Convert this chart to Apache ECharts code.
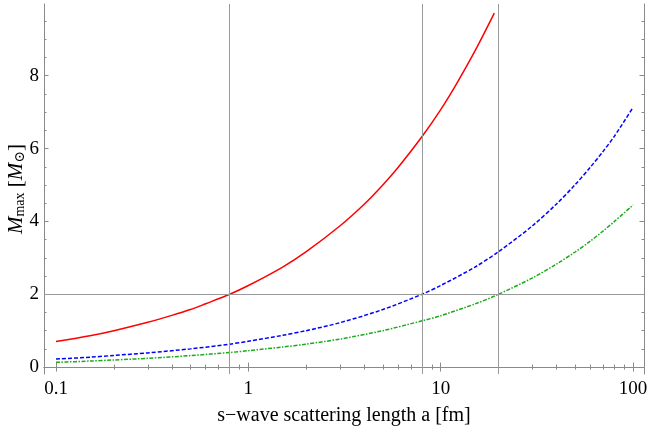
<!DOCTYPE html>
<html>
<head>
<meta charset="utf-8">
<script src="https://cdn.jsdelivr.net/npm/echarts@6/dist/echarts.min.js"></script>
<style>html,body{margin:0;padding:0;background:#fff}#c{width:649px;height:433px}</style>
</head>
<body>
<div id="c"></div>
<script>
// ---- data ----
const redX   = [0.1, 0.15, 0.2, 0.3, 0.4, 0.5, 0.6, 0.8, 1, 1.5, 2, 3, 4, 5, 6, 8, 10, 12, 15, 19];
const redY   = [0.70, 0.86, 1.0, 1.23, 1.42, 1.58, 1.74, 2.0, 2.24, 2.74, 3.17, 3.88, 4.47, 5.0, 5.48, 6.33, 7.07, 7.75, 8.66, 9.72];
const bgX    = [0.1, 0.15, 0.2, 0.3, 0.5, 0.8, 1, 1.5, 2, 3, 5, 8, 10, 15, 20, 30, 40, 50, 60, 70, 80, 100];
const blueY  = [0.22, 0.27, 0.32, 0.39, 0.50, 0.63, 0.71, 0.87, 1.0, 1.22, 1.58, 2.0, 2.24, 2.74, 3.17, 3.88, 4.48, 5.01, 5.49, 5.93, 6.34, 7.13];
const greenY = [0.13, 0.165, 0.195, 0.24, 0.315, 0.40, 0.45, 0.55, 0.63, 0.77, 1.0, 1.27, 1.41, 1.73, 2.0, 2.45, 2.83, 3.16, 3.46, 3.74, 4.0, 4.45];
const vLines = [0.8, 8, 20];
const hLines = [2];
const xTickLabels = ['0.1', '1', '10', '100'];
const xMajor = [0.1, 1, 10, 100];
const xMinor = [0.2,0.3,0.4,0.5,0.6,0.7,0.8,0.9, 2,3,4,5,6,7,8,9, 20,30,40,50,60,70,80,90];
const yTickLabels = ['0', '2', '4', '6', '8'];
const yMajor = [0, 2, 4, 6, 8];
const yMinor = [0.5,1,1.5,2.5,3,3.5,4.5,5,5.5,6.5,7,7.5,8.5,9,9.5];
const xRange = [0.0866, 114];
const yRange = [-0.19, 9.97];

const FONT = "'Liberation Serif','DejaVu Serif',serif";
const FRAME = '#8a8a8a';
const pairs = (xs, ys) => xs.map((x, i) => [x, ys[i]]);

function xAx(pos, vals, len, withLine, withLabel) {
  return {
    type: 'log', logBase: 10, position: pos, min: xRange[0], max: xRange[1],
    axisLine: { show: withLine, lineStyle: { color: FRAME, width: 1 } },
    axisTick: { show: true, inside: true, length: len, customValues: vals, lineStyle: { color: FRAME } },
    minorTick: { show: false },
    splitLine: { show: false },
    axisLabel: withLabel ? {
      show: true, customValues: xMajor, margin: 6, color: '#000', fontFamily: FONT, fontSize: 19,
      formatter: v => { let b = 0, d = 1e9; xMajor.forEach((m, i) => { const dd = Math.abs(Math.log10(m) - Math.log10(v)); if (dd < d) { d = dd; b = i; } }); return xTickLabels[b]; }
    } : { show: false },
    ...(withLabel ? { name: 's\u2212wave scattering length a [fm]', nameLocation: 'middle', nameGap: 32, nameMoveOverlap: false,
      nameTextStyle: { color: '#000', fontFamily: FONT, fontSize: 20 } } : {})
  };
}
function yAx(pos, vals, len, withLine, withLabel) {
  return {
    type: 'value', position: pos, min: yRange[0], max: yRange[1],
    axisLine: { show: withLine, lineStyle: { color: FRAME, width: 1 } },
    axisTick: { show: true, inside: true, length: len, customValues: vals, lineStyle: { color: FRAME } },
    splitLine: { show: false },
    axisLabel: withLabel ? {
      show: true, customValues: yMajor, margin: 5, color: '#000', fontFamily: FONT, fontSize: 19,
      formatter: v => { let b = 0, d = 1e9; yMajor.forEach((m, i) => { const dd = Math.abs(m - v); if (dd < d) { d = dd; b = i; } }); return yTickLabels[b]; }
    } : { show: false },
    ...(withLabel ? {
      name: '{it|M}{sub|max}{n| [}{it|M}{sub|\u2299}{n|]}', nameLocation: 'middle', nameGap: 17, nameRotate: 90, nameMoveOverlap: false,
      nameTextStyle: { color: '#000', fontFamily: FONT, fontSize: 21,
        rich: {
          it: { fontFamily: FONT, fontStyle: 'italic', fontSize: 21, color: '#000', verticalAlign: 'bottom', lineHeight: 22 },
          sub: { fontFamily: FONT, fontSize: 14, color: '#000', verticalAlign: 'bottom', lineHeight: 16 },
          n: { fontFamily: FONT, fontSize: 21, color: '#000', verticalAlign: 'bottom', lineHeight: 22 }
        } }
    } : {})
  };
}

const chart = echarts.init(document.getElementById('c'), null, { renderer: 'canvas' });
chart.setOption({
  animation: false,
  backgroundColor: '#fff',
  grid: { left: 44, right: 5, top: 4, bottom: 59, containLabel: false, outerBoundsMode: 'none' },
  xAxis: [
    xAx('bottom', xMajor, 4.5, true, true),
    xAx('bottom', xMinor, 2.5, false, false),
    xAx('top', xMajor, 4.5, true, false),
    xAx('top', xMinor, 2.5, false, false)
  ],
  yAxis: [
    yAx('left', yMajor, 4.5, true, true),
    yAx('left', yMinor, 2.5, false, false),
    yAx('right', yMajor, 4.5, true, false),
    yAx('right', yMinor, 2.5, false, false)
  ],
  series: [
    {
      type: 'line', data: [], silent: true,
      markLine: {
        silent: true, symbol: 'none', label: { show: false },
        lineStyle: { color: '#9a9a9a', width: 1, type: 'solid' },
        data: vLines.map(v => ({ xAxis: v })).concat(hLines.map(v => ({ yAxis: v })))
      }
    },
    { type: 'line', data: pairs(redX, redY), showSymbol: false, smooth: 0.3,
      lineStyle: { color: '#ff0000', width: 1.5 } },
    { type: 'line', data: pairs(bgX, blueY), showSymbol: false, smooth: 0.3,
      lineStyle: { color: '#0000ff', width: 1.5, type: [4, 2] } },
    { type: 'line', data: pairs(bgX, greenY), showSymbol: false, smooth: 0.3,
      lineStyle: { color: '#1aaa1a', width: 1.5, type: [4, 1.5, 1.5, 1.5] } }
  ]
});
</script>
</body>
</html>
